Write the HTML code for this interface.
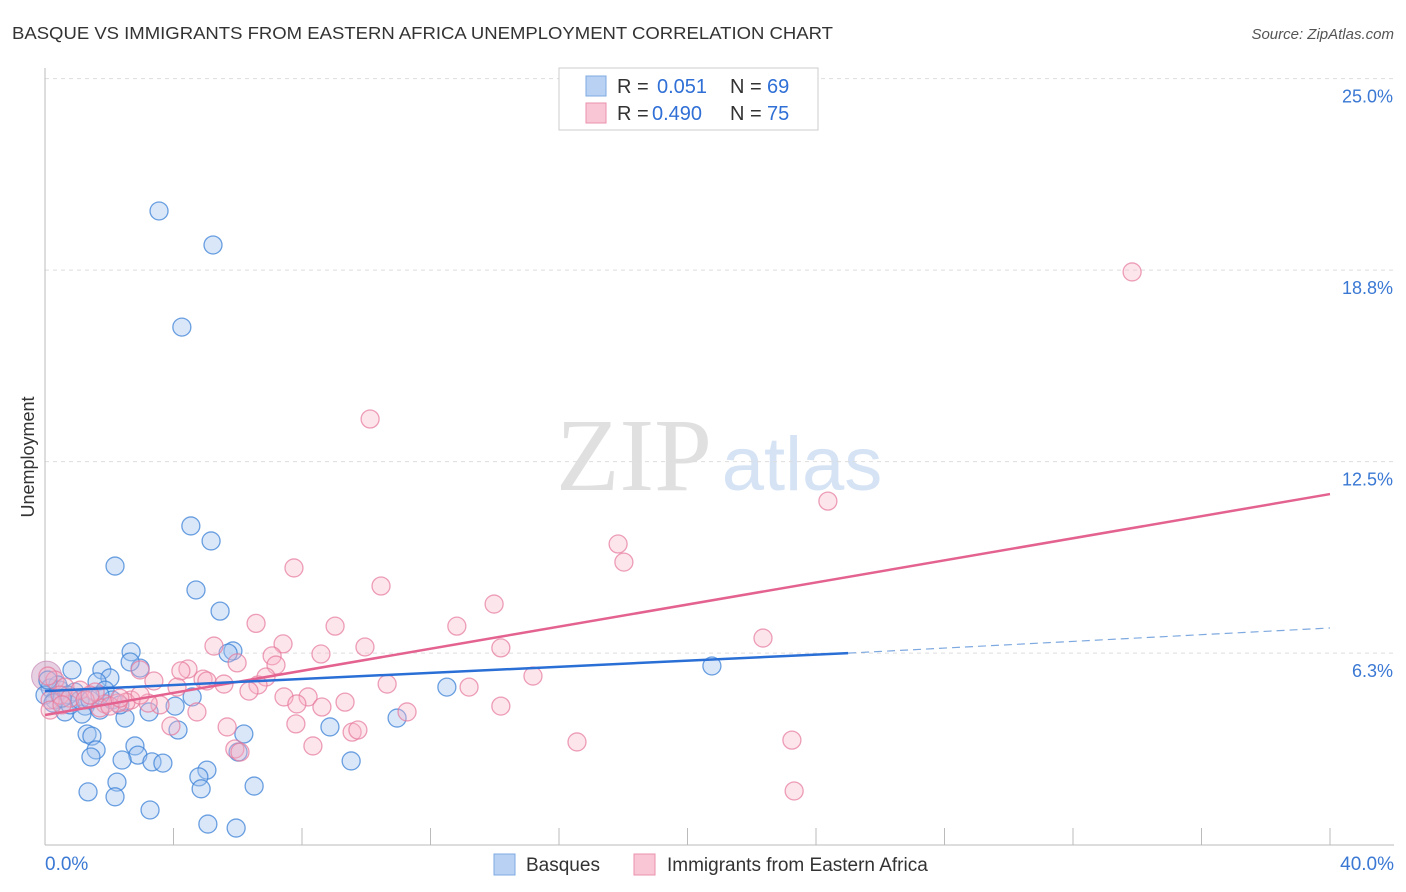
<!DOCTYPE html>
<html><head><meta charset="utf-8">
<style>
body{margin:0;background:#fff;font-family:"Liberation Sans",sans-serif;}
#wrap{position:relative;width:1406px;height:892px;overflow:hidden;}
</style></head>
<body>
<div id="wrap">
<svg id="chart" width="1406" height="892" xmlns="http://www.w3.org/2000/svg">
<text x="12" y="39" font-size="17.5" fill="#333" textLength="821" lengthAdjust="spacingAndGlyphs">BASQUE VS IMMIGRANTS FROM EASTERN AFRICA UNEMPLOYMENT CORRELATION CHART</text>
<text x="1394" y="39" font-size="15" fill="#555" font-style="italic" text-anchor="end">Source: ZipAtlas.com</text>
<text transform="translate(34,457) rotate(-90)" font-size="18" fill="#333" text-anchor="middle">Unemployment</text>
<g>
<text x="634" y="490" font-family="Liberation Serif,serif" font-size="104" fill="#e0e0e0" text-anchor="middle">ZIP</text>
<text x="802" y="490" font-size="76" fill="#d5e3f5" text-anchor="middle">atlas</text>
</g>
<g id="grid"></g>
<g id="marks"></g>
<g font-size="20" fill="#333">
<rect x="559" y="68" width="259" height="62" fill="#fff" stroke="#ccc"/>
<rect x="586" y="76" width="20" height="20" fill="#b9d2f3" stroke="#7ea9e0"/>
<rect x="586" y="103" width="20" height="20" fill="#f9c6d5" stroke="#eb91ae"/>
<text x="617" y="93">R =</text><text x="657" y="93" fill="#2f6fd6">0.051</text>
<text x="730" y="93">N =</text><text x="767" y="93" fill="#2f6fd6">69</text>
<text x="617" y="120">R =</text><text x="652" y="120" fill="#2f6fd6">0.490</text>
<text x="730" y="120">N =</text><text x="767" y="120" fill="#2f6fd6">75</text>
</g>
<g>
<rect x="494" y="854" width="21" height="21" fill="#b9d2f3" stroke="#7ea9e0"/>
<text x="526" y="871" font-size="19" fill="#333">Basques</text>
<rect x="634" y="854" width="21" height="21" fill="#f9c6d5" stroke="#eb91ae"/>
<text x="667" y="871" font-size="19" fill="#333">Immigrants from Eastern Africa</text>
</g>
</svg>
</div>
<script>
const yTicks=[6.25,12.5,18.75,25];
const yTickLabels=["6.3%","12.5%","18.8%","25.0%"];
const xTickLabels=["0.0%","40.0%"];
const blueX=[3.55,5.23,4.26,4.54,5.17,2.18,4.70,5.45,2.68,5.85,5.70,1.77,2.96,0.84,2.65,2.02,1.62,0.16,0.47,0.93,1.87,4.58,4.05,3.24,1.25,0.62,1.15,1.71,2.49,12.51,20.76,8.87,10.96,6.19,4.14,1.31,1.46,1.59,1.43,2.80,2.89,2.40,3.33,3.67,5.04,6.01,4.79,2.24,1.34,2.18,4.86,6.51,3.27,5.07,5.95,9.53,0.31,0,0.78,0.40,2.09,2.33,0.72,1.09,0.09,0.25,0.53,1.40,1.71];
const blueY=[20.68,19.57,16.89,10.40,9.91,9.09,8.31,7.62,6.29,6.32,6.25,5.70,5.76,5.70,5.96,5.44,5.31,5.11,5.04,4.98,5.04,4.82,4.52,4.33,4.52,4.33,4.26,4.39,4.13,5.14,5.83,3.84,4.13,3.61,3.74,3.61,3.54,3.09,2.86,3.22,2.92,2.76,2.70,2.66,2.43,3.02,2.21,2.04,1.72,1.56,1.82,1.91,1.13,0.67,0.54,2.73,4.72,4.88,4.56,5.21,4.72,4.56,4.88,4.72,5.37,4.62,4.78,4.72,4.88];
const pinkX=[33.84,10.12,24.37,17.84,18.02,7.75,10.46,13.98,9.03,12.82,6.57,22.35,5.26,7.41,9.96,14.19,8.59,5.98,7.07,4.45,4.23,7.19,2.96,15.19,4.92,5.04,6.88,5.57,6.63,10.65,13.20,4.11,6.35,3.39,8.19,7.44,9.34,7.84,8.62,14.19,11.27,4.73,3.58,3.21,2.68,2.52,2.27,1.87,1.71,7.81,5.67,3.92,9.56,9.74,8.34,5.91,6.07,16.56,23.25,23.32,0.31,0.62,1.09,1.56,0.16,0.47,0.78,1.25,2.02,0.16,0.53,2.33,2.96,1.40,0.09];
const pinkY=[18.69,13.89,11.21,9.81,9.22,9.03,8.44,7.85,7.13,7.13,7.22,6.74,6.48,6.55,6.45,6.42,6.22,5.93,6.16,5.73,5.67,5.86,5.70,5.50,5.40,5.34,5.47,5.24,5.21,5.24,5.14,5.14,5.01,5.34,4.82,4.82,4.65,4.59,4.49,4.52,4.33,4.33,4.56,4.62,4.72,4.65,4.62,4.59,4.46,3.94,3.84,3.87,3.67,3.74,3.22,3.12,3.02,3.35,3.41,1.75,5.37,5.14,5.04,4.98,4.72,4.88,4.78,4.72,4.52,4.39,4.56,4.78,4.88,4.88,5.50];
const blueTrend=[5.01,6.25,7.07]; // at x=0,25,40
const pinkTrend=[4.23,11.44];     // at x=0,40
const NS="http://www.w3.org/2000/svg";
const X0=45,X1=1330,Y0=844.6,PPY=30.64;
const sx=v=>X0+(X1-X0)*v/40;
const sy=v=>Y0-v*PPY;
function mk(tag,attrs,parent){const e=document.createElementNS(NS,tag);for(const k in attrs)e.setAttribute(k,attrs[k]);parent.appendChild(e);return e;}
const grid=document.getElementById('grid'),marks=document.getElementById('marks');
yTicks.forEach((t,i)=>{
  const l=mk('line',{x1:X0,x2:1394,y1:sy(t),y2:sy(t),stroke:'#ddd','stroke-dasharray':'4,4'},grid);
  
  
  const tx=mk('text',{x:1393,y:sy(t)+24,'font-size':18,fill:'#3a78d4','text-anchor':'end'},grid);
  tx.textContent=yTickLabels[i];
  
  
});
const ya=mk('line',{x1:X0,x2:X0,y1:68,y2:845,stroke:'#bbb'},grid);


const xa=mk('line',{x1:X0,x2:1394,y1:845,y2:845,stroke:'#bbb'},grid);


for(let i=1;i<=10;i++){
  const t=mk('line',{x1:sx(i*4),x2:sx(i*4),y1:828,y2:845,stroke:'#bbb'},grid);
  
  
}
[[0,'start',X0],[40,'end',1394]].forEach((d,i)=>{
  const tx=mk('text',{x:d[2],y:870,'font-size':19,fill:'#3a78d4','text-anchor':d[1]},grid);
  tx.textContent=xTickLabels[i];
  
  
});
const big=mk('circle',{cx:sx(0.05),cy:sy(5.5),r:15,fill:'rgba(200,150,190,0.45)',stroke:'rgba(190,120,170,0.6)'},marks);


blueX.forEach((v,i)=>{
  const c=mk('circle',{cx:sx(v),cy:sy(blueY[i]),r:9,fill:'rgba(160,195,240,0.4)',stroke:'rgba(60,130,215,0.75)','stroke-width':1.3},marks);
  
  
});
pinkX.forEach((v,i)=>{
  const c=mk('circle',{cx:sx(v),cy:sy(pinkY[i]),r:9,fill:'rgba(248,180,200,0.35)',stroke:'rgba(230,120,155,0.7)','stroke-width':1.3},marks);
  
  
});
const pl=mk('line',{x1:sx(0),y1:sy(pinkTrend[0]),x2:sx(40),y2:sy(pinkTrend[1]),stroke:'#e4628f','stroke-width':2.5},marks);


const bl=mk('line',{x1:sx(0),y1:sy(blueTrend[0]),x2:sx(25),y2:sy(blueTrend[1]),stroke:'#2a6fd6','stroke-width':2.5},marks);


const bd=mk('line',{x1:sx(25),y1:sy(blueTrend[1]),x2:sx(40),y2:sy(blueTrend[2]),stroke:'#7ea9e0','stroke-width':1.2,'stroke-dasharray':'8,5'},marks);


</script>
</body></html>
